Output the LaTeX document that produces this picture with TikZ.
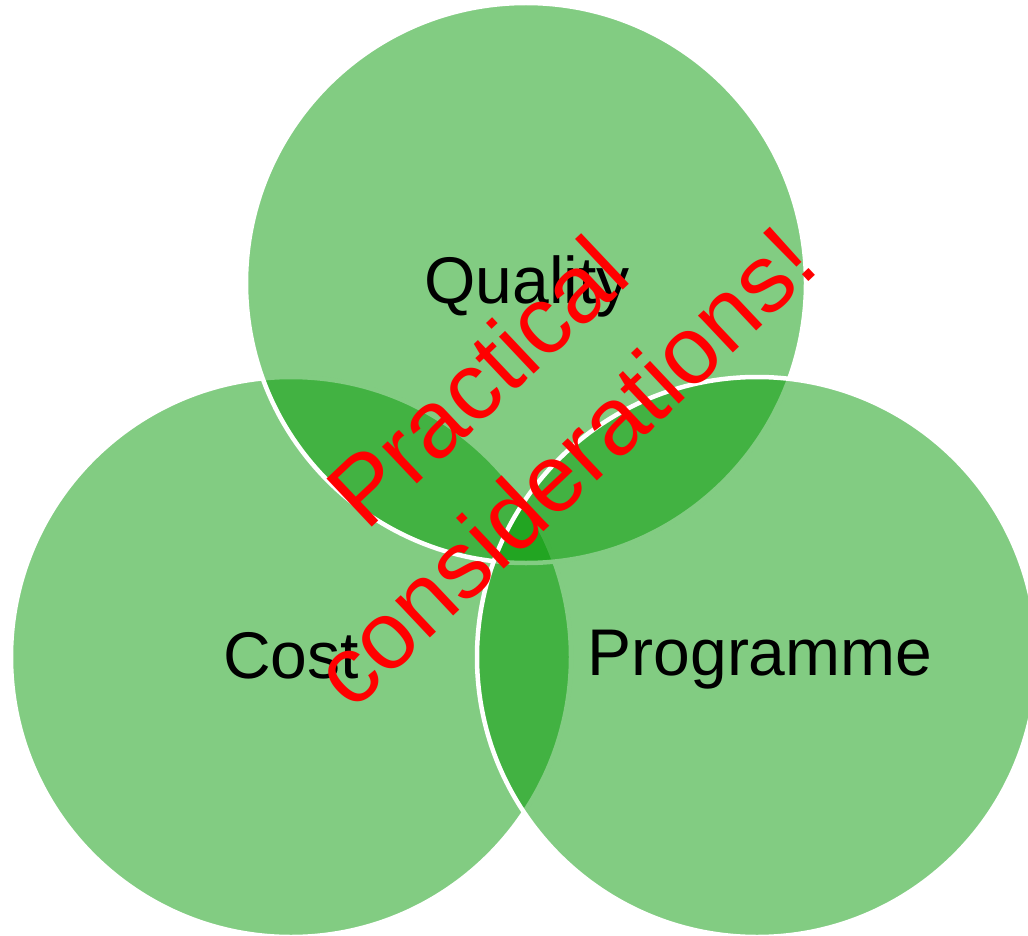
\documentclass[tikz,border=0pt]{standalone}
\usepackage{fontspec}
\setmainfont{Liberation Sans}
\definecolor{venngreen}{RGB}{0,151,0}
\definecolor{warnred}{RGB}{255,0,0}
\begin{document}
\begin{tikzpicture}[x=1pt,y=-1pt,
  venn/.style={fill=venngreen, fill opacity=0.49, draw=white, line width=4.5pt},
  setlabel/.style={anchor=base, inner sep=0pt, text=black, font=\fontsize{66}{79}\selectfont},
  notelabel/.style={anchor=base, inner sep=0pt, text=warnred, rotate=43.3, font=\fontsize{96}{115}\selectfont}]
  \useasboundingbox (0,0) rectangle (1028,936);
  % three overlapping sets
  \path[venn] (291,657) circle[radius=280pt];
  \path[venn] (526,283) circle[radius=280pt];
  \path[venn] (757,657) circle[radius=280pt];
  % set names
  \node[setlabel] (quality) at (527,303) {Quality};
  \node[setlabel] (cost) at (291,678) {Cost};
  \node[setlabel] (programme) at (760,675) {Programme};
  % diagonal remark across the middle
  \node[notelabel] (practical) at (500,406) {Practical};
  \node[notelabel] (considerations) at (587,491) {considerations!};
\end{tikzpicture}
\end{document}
